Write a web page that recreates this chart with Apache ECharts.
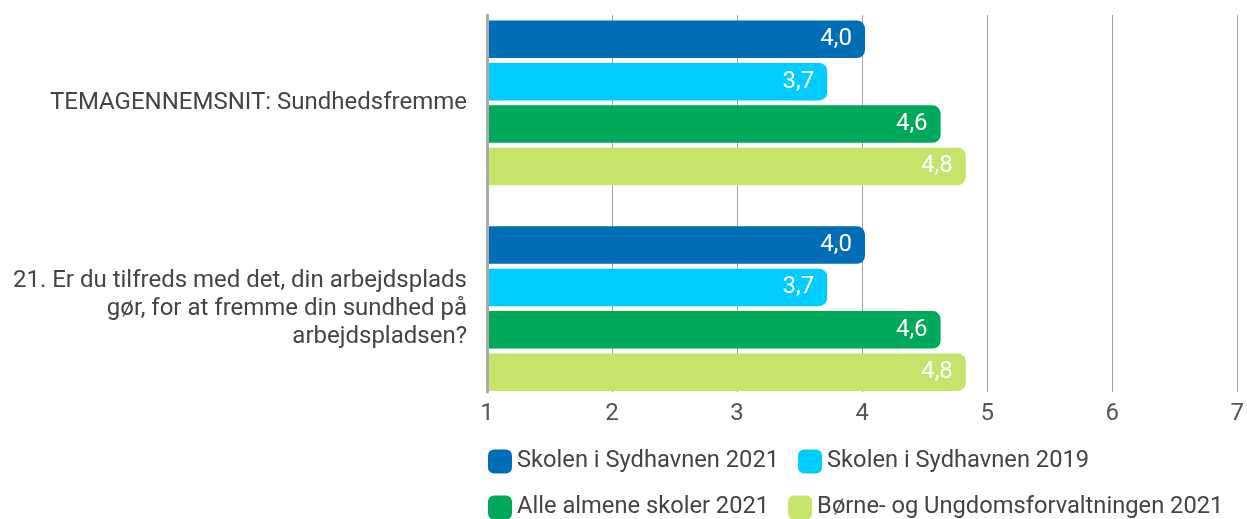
<!DOCTYPE html>
<html><head><meta charset="utf-8">
<script src="https://cdn.jsdelivr.net/npm/echarts@6/dist/echarts.min.js"></script>
<style>html,body{margin:0;padding:0;background:#fff}#c{width:1247px;height:519px}</style>
</head><body><div id="c"></div>
<script>
const categories = ["TEMAGENNEMSNIT: Sundhedsfremme", "21. Er du tilfreds med det, din arbejdsplads gør, for at fremme din sundhed på arbejdspladsen?"];
const seriesNames = ["Skolen i Sydhavnen 2021", "Skolen i Sydhavnen 2019", "Alle almene skoler 2021", "Børne- og Ungdomsforvaltningen 2021"];
const seriesColors = ["#006EB7", "#00CCFF", "#00A859", "#C6E46A"];
const s2021 = [4.0, 4.0];
const s2019 = [3.7, 3.7];
const sAlle = [4.6, 4.6];
const sBUF = [4.8, 4.8];
const tickLabels = ["1", "2", "3", "4", "5", "6", "7"];
const allValues = [s2021, s2019, sAlle, sBUF];

const font = 'Roboto';
const fw = 'normal';
const catFontSize = 24;
const wrapWidth = 462;
const ctx = document.createElement('canvas').getContext('2d');
function wrap(text) {
  ctx.font = fw + ' ' + catFontSize + 'px ' + font;
  const words = text.split(' ');
  const lines = [];
  let cur = '';
  for (const w of words) {
    const t = cur ? cur + ' ' + w : w;
    if (cur && ctx.measureText(t).width > wrapWidth) { lines.push(cur); cur = w; }
    else cur = t;
  }
  if (cur) lines.push(cur);
  return lines.join('\n');
}

const chart = echarts.init(document.getElementById('c'), null, {renderer: 'canvas'});
chart.setOption({
  animation: false,
  textStyle: {fontFamily: font},
  grid: [
    {left: 487, right: 4, top: 15, height: 377, containLabel: false, z: 5},
    {left: 487, right: 4, top: -3.5, height: 415, containLabel: false}
  ],
  xAxis: [
    {gridIndex: 0, type: 'value', min: 1, max: 7, interval: 1, z: 0,
     axisLine: {show: false}, axisTick: {show: false},
     splitLine: {show: true, lineStyle: {color: '#a0a0a0', width: 1}},
     axisLabel: {fontSize: 24, color: '#555', margin: 10, fontFamily: font, fontWeight: fw,
       formatter: v => tickLabels[v - 1]}},
    {gridIndex: 1, type: 'value', min: 1, max: 7, interval: 1, show: false}
  ],
  yAxis: [
    {gridIndex: 0, type: 'category', data: categories, inverse: true, z: 10,
     axisLabel: {show: false}, axisTick: {show: false}, splitLine: {show: false},
     axisLine: {show: true, lineStyle: {color: '#aaaaaa', width: 3}}},
    {gridIndex: 1, type: 'category', data: categories, inverse: true,
     axisLine: {show: false}, axisTick: {show: false},
     axisLabel: {fontSize: catFontSize, color: '#444', margin: 20, fontFamily: font, fontWeight: fw,
       lineHeight: 28, align: 'right', formatter: v => wrap(v)}}
  ],
  legend: {
    left: 488, top: 448, width: 759, padding: 0, itemWidth: 24, itemHeight: 24, itemGap: 19,
    icon: 'roundRect',
    textStyle: {fontSize: 23.7, color: '#444', fontFamily: font, fontWeight: fw, lineHeight: 27},
    data: seriesNames
  },
  series: seriesNames.map((name, i) => ({
    name: name, type: 'bar', xAxisIndex: 1, yAxisIndex: 1, z: 2,
    data: allValues[i], barWidth: 37.5, barGap: '13%',
    itemStyle: {color: seriesColors[i], borderRadius: [0, 8, 8, 0]},
    label: {show: true, position: 'insideRight', distance: 13, color: '#fff',
      fontSize: 24, fontFamily: font, fontWeight: fw,
      formatter: p => p.value.toFixed(1).replace('.', ',')}
  }))
});
</script></body></html>
